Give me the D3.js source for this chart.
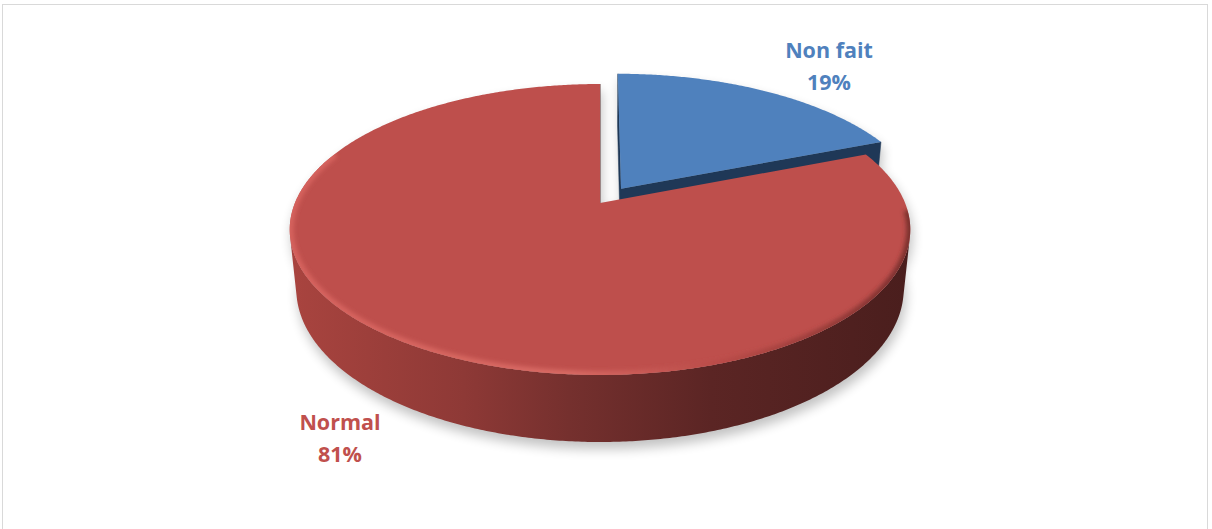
<!DOCTYPE html>
<html>
<head>
<meta charset="utf-8">
<script src="https://cdn.jsdelivr.net/npm/d3@7"></script>
<style>
  html, body { margin: 0; padding: 0; background: #ffffff; overflow: hidden; }
  svg { display: block; }
</style>
</head>
<body>
<svg id="chart" width="1212" height="529"></svg>
<script>
// ---- data ----
const categories = ["Non fait", "Normal"];
const values = [19, 81];
const percentLabels = ["19%", "81%"];
const topColors = ["#4F81BD", "#BE4F4C"];
const sideDark = ["#1F3857", "#4A1E1D"];
const labelColors = ["#4F81BD", "#C0504D"];
const explodeBy = [0.125, 0];

// ---- 3D view of the pie (unit radius disk, perspective camera) ----
const view = { cx: 600, cy: 203, focal: 1487, dist: 4.874, tilt: Math.asin(0.461), thick: 0.221 };
const sT = Math.sin(view.tilt), cT = Math.cos(view.tilt);
const camera = [0, view.dist * sT, view.dist * cT];   // (x, height, z toward viewer)

function world(theta, r, h, off) {
  return [r * Math.sin(theta) + off[0], h, -r * Math.cos(theta) + off[1]];
}
function project(p) {
  const [x, h, z] = p;
  const v = h * cT - z * sT;
  const d = view.dist - (z * cT + h * sT);
  return [view.cx + view.focal * x / d, view.cy - view.focal * v / d];
}
const facing = (n, p) => n[0] * (camera[0] - p[0]) + n[1] * (camera[1] - p[1]) + n[2] * (camera[2] - p[2]) > 0;

const svg = d3.select("#chart");
const defs = svg.append("defs");
const line = d3.line();
const closed = pts => line(pts) + "Z";

// frame of the chart area
svg.append("rect")
  .attr("x", 2.5).attr("y", 4.5).attr("width", 1205).attr("height", 600)
  .attr("fill", "#ffffff").attr("stroke", "#D9D9D9").attr("stroke-width", 1);

// gradients for the curved rim and bevel
const sideGrad = defs.append("linearGradient").attr("id", "side-red")
  .attr("gradientUnits", "userSpaceOnUse").attr("x1", 290).attr("x2", 910).attr("y1", 0).attr("y2", 0);
[[0, "#A9443F"], [0.28, "#8E3936"], [0.45, "#75302E"], [0.68, "#5B2524"], [1, "#4A1E1D"]]
  .forEach(([o, c]) => sideGrad.append("stop").attr("offset", o).attr("stop-color", c));
const sideGradB = defs.append("linearGradient").attr("id", "side-blue")
  .attr("gradientUnits", "userSpaceOnUse").attr("x1", 600).attr("x2", 910).attr("y1", 0).attr("y2", 0);
[[0, "#2E5386"], [1, "#1F3857"]]
  .forEach(([o, c]) => sideGradB.append("stop").attr("offset", o).attr("stop-color", c));
const rimGrad = defs.append("linearGradient").attr("id", "rim-red")
  .attr("gradientUnits", "userSpaceOnUse").attr("x1", 290).attr("x2", 910).attr("y1", 0).attr("y2", 0);
[[0, "#D6625D"], [0.45, "#D86A64"], [0.7, "#B84A47"], [1, "#7A302E"]]
  .forEach(([o, c]) => rimGrad.append("stop").attr("offset", o).attr("stop-color", c));

const blurShadow = defs.append("filter").attr("id", "shadow-blur")
  .attr("x", "-20%").attr("y", "-20%").attr("width", "140%").attr("height", "140%");
blurShadow.append("feGaussianBlur").attr("stdDeviation", 6);
const blurRim = defs.append("filter").attr("id", "rim-blur");
blurRim.append("feGaussianBlur").attr("stdDeviation", 2);

// ---- slices ----
const pie = d3.pie().sort(null).startAngle(0).endAngle(2 * Math.PI);
const arcs = pie(values);
const step = Math.PI / 360;

const slices = arcs.map((a, i) => {
  const mid = (a.startAngle + a.endAngle) / 2;
  const off = [explodeBy[i] * Math.sin(mid), -explodeBy[i] * Math.cos(mid)];
  const thetas = d3.range(a.startAngle, a.endAngle, step).concat([a.endAngle]);
  return { a, i, off, thetas };
});

// drop shadow beneath the whole pie
const shadowG = svg.append("g").attr("opacity", 0.24).attr("filter", "url(#shadow-blur)")
  .attr("transform", "translate(2,7)");
slices.forEach(s => {
  const top = [project(world(0, 0, 0, s.off))].concat(s.thetas.map(t => project(world(t, 1, 0, s.off))));
  const bot = [project(world(0, 0, -view.thick, s.off))].concat(s.thetas.map(t => project(world(t, 1, -view.thick, s.off))));
  const band = s.thetas.map(t => project(world(t, 1, 0, s.off)))
    .concat(s.thetas.slice().reverse().map(t => project(world(t, 1, -view.thick, s.off))));
  [top, bot, band].forEach(poly => shadowG.append("path").attr("d", closed(poly)).attr("fill", "#000"));
});

// draw back slice first, front slice over it
const drawOrder = [0, 1];
drawOrder.forEach(k => {
  const s = slices[k];
  const g = svg.append("g").attr("class", "slice-" + k);
  const C0 = world(0, 0, 0, s.off), C1 = world(0, 0, -view.thick, s.off);

  // radial cut faces
  [[s.a.startAngle, -1], [s.a.endAngle, 1]].forEach(([ang, sign]) => {
    const n = [sign * Math.cos(ang), 0, sign * Math.sin(ang)];
    if (!facing(n, C0)) return;
    const E0 = world(ang, 1, 0, s.off), E1 = world(ang, 1, -view.thick, s.off);
    g.append("path").attr("d", closed([C0, E0, E1, C1].map(project)))
      .attr("fill", sideDark[k]).attr("stroke", sideDark[k]).attr("stroke-width", 0.5);
  });

  // visible part of the curved outer rim
  const vis = s.thetas.filter(t => facing([Math.sin(t), 0, -Math.cos(t)], world(t, 1, 0, s.off)));
  if (vis.length > 1) {
    const band = vis.map(t => project(world(t, 1, 0, s.off)))
      .concat(vis.slice().reverse().map(t => project(world(t, 1, -view.thick, s.off))));
    g.append("path").attr("d", closed(band))
      .attr("fill", k === 1 ? "url(#side-red)" : "url(#side-blue)");
  }

  // top face
  const topPts = [project(C0)].concat(s.thetas.map(t => project(world(t, 1, 0, s.off))));
  const clipId = "top-clip-" + k;
  defs.append("clipPath").attr("id", clipId).append("path").attr("d", closed(topPts));
  g.append("path").attr("d", closed(topPts)).attr("fill", topColors[k]);

  // rounded bevel along the front rim of the large slice
  if (k === 1) {
    const rimT = s.thetas.filter(t => t > 1.62 && t < 5.1);
    g.append("g").attr("clip-path", `url(#${clipId})`)
      .append("path")
      .attr("d", line(rimT.map(t => project(world(t, 1, 0, s.off)))))
      .attr("fill", "none").attr("stroke", "url(#rim-red)").attr("stroke-width", 8)
      .attr("filter", "url(#rim-blur)");
  }
});

// ---- data labels ----
const labelPos = [[829, 58], [340, 430]];
const lineGap = 32;
categories.forEach((name, i) => {
  const t = svg.append("text")
    .attr("x", labelPos[i][0]).attr("y", labelPos[i][1])
    .attr("text-anchor", "middle")
    .attr("font-family", "'Open Sans', 'Noto Sans', sans-serif")
    .attr("font-weight", 700).attr("font-size", 21.5)
    .attr("fill", labelColors[i]);
  t.append("tspan").attr("x", labelPos[i][0]).text(name);
  t.append("tspan").attr("x", labelPos[i][0]).attr("dy", lineGap).text(percentLabels[i]);
});
</script>
</body>
</html>
